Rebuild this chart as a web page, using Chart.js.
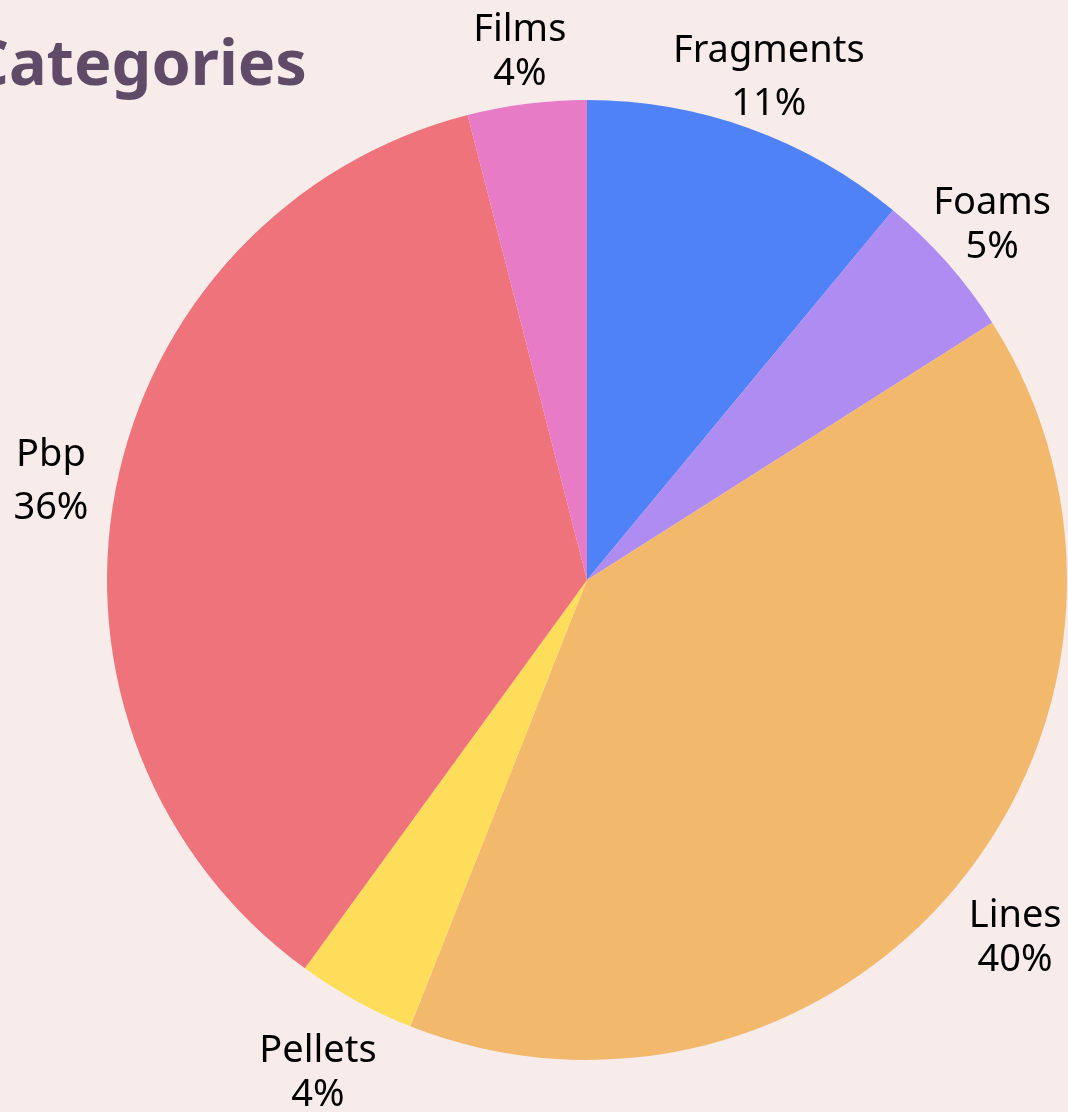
<!DOCTYPE html>
<html>
<head>
<meta charset="utf-8">
<script src="https://cdn.jsdelivr.net/npm/chart.js@4"></script>
<style>
  html, body { margin: 0; padding: 0; background: #f8eceb; overflow: hidden; }
  #wrap { position: relative; width: 1068px; height: 1112px; }
  canvas { display: block; }
</style>
</head>
<body>
<div id="wrap"><canvas id="c" width="1068" height="1112"></canvas></div>
<script>
const titleText = "Categories";
const categories = ["Fragments", "Foams", "Lines", "Pellets", "Pbp", "Films"];
const shares = [11, 5, 40, 4, 36, 4];
const sliceColors = ["#4f81f7", "#ae8cf2", "#f2b86c", "#fedd5a", "#ef737b", "#e77bc6"];

const total = shares.reduce((a, b) => a + b, 0);

const titlePlugin = {
  id: "pageTitle",
  afterDraw(chart) {
    const ctx = chart.ctx;
    ctx.save();
    ctx.font = "bold 63px 'Noto Sans'";
    ctx.fillStyle = "#5f4b68";
    ctx.textAlign = "right";
    ctx.textBaseline = "alphabetic";
    ctx.fillText(titleText, 307, 85);
    ctx.restore();
  }
};

const outerLabels = {
  id: "outerLabels",
  afterDatasetsDraw(chart) {
    const ctx = chart.ctx;
    const meta = chart.getDatasetMeta(0);
    ctx.save();
    ctx.font = "38px 'Noto Sans'";
    ctx.fillStyle = "#000000";
    ctx.textAlign = "center";
    ctx.textBaseline = "alphabetic";
    meta.data.forEach((arc, i) => {
      const p = arc.getProps(["x", "y", "startAngle", "endAngle", "outerRadius"], true);
      const mid = (p.startAngle + p.endAngle) / 2;
      const ux = Math.cos(mid), uy = Math.sin(mid);
      const d = p.outerRadius + 68 + 12 * uy;
      const cx = p.x + ux * d;
      const cy = p.y + uy * d;
      const l1 = chart.data.labels[i];
      const l2 = Math.round(chart.data.datasets[0].data[i] / total * 100) + "%";
      const m1 = ctx.measureText(l1), m2 = ctx.measureText(l2);
      const a1 = m1.actualBoundingBoxAscent, d1 = m1.actualBoundingBoxDescent;
      const a2 = m2.actualBoundingBoxAscent;
      const gap = 17;
      const h = a1 + d1 + gap + a2;
      const b1 = cy - h / 2 + a1;
      const b2 = b1 + d1 + gap + a2;
      ctx.fillText(l1, cx, b1);
      ctx.fillText(l2, cx, b2);
    });
    ctx.restore();
  }
};

new Chart(document.getElementById("c"), {
  type: "pie",
  data: {
    labels: categories,
    datasets: [{
      data: shares,
      backgroundColor: sliceColors,
      borderWidth: 0,
      hoverOffset: 0
    }]
  },
  options: {
    responsive: false,
    animation: false,
    devicePixelRatio: 1,
    layout: { padding: { left: 107, right: 1, top: 100, bottom: 52 } },
    plugins: {
      legend: { display: false },
      tooltip: { enabled: false },
      title: { display: false }
    }
  },
  plugins: [outerLabels, titlePlugin]
});
</script>
</body>
</html>
